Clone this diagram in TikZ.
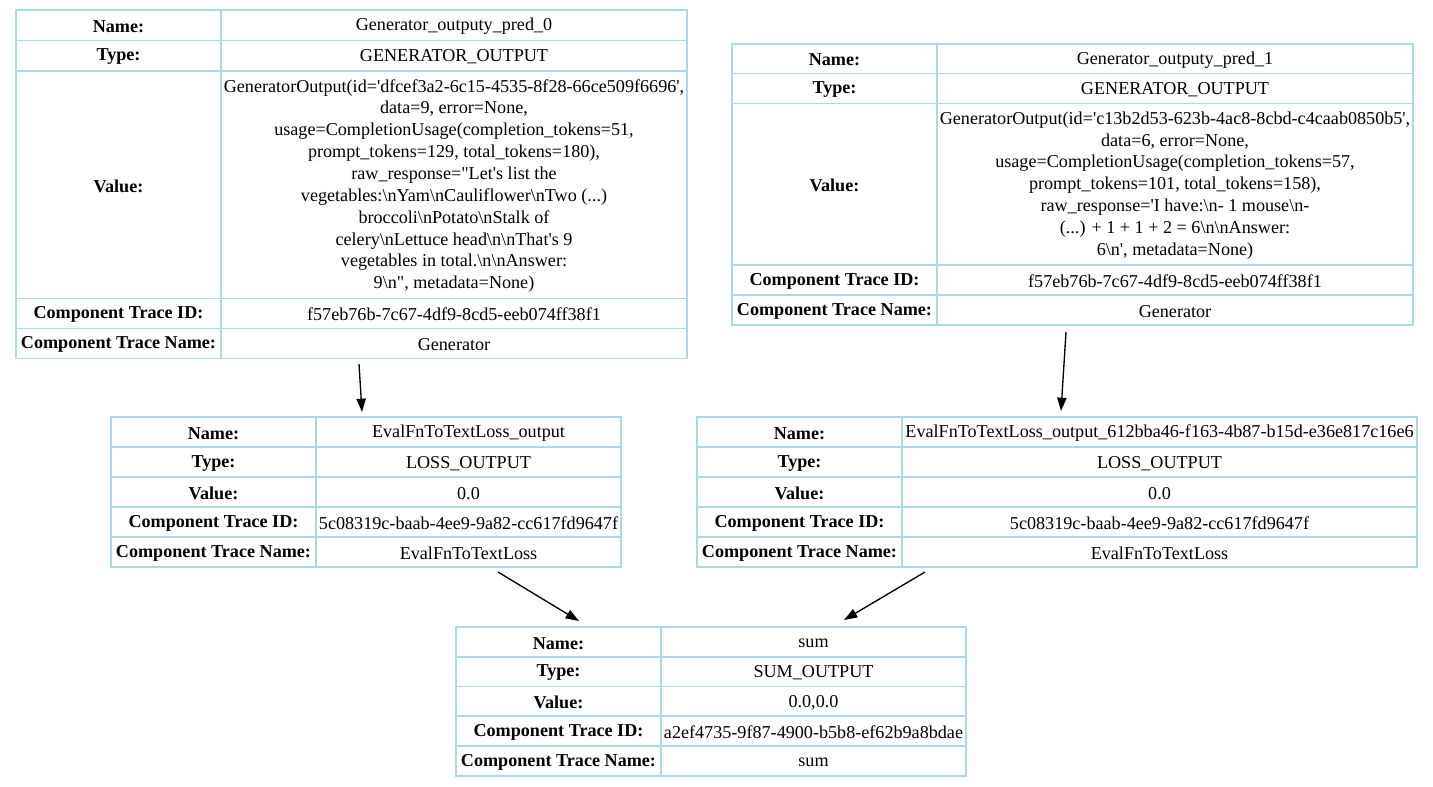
\documentclass[tikz,border=0pt]{standalone}
\usepackage{fontspec}
\setmainfont{Liberation Serif}[Ligatures=TeXOff]
\usetikzlibrary{arrows.meta}
\definecolor{cellblue}{HTML}{ADD8E6}
\newcommand\bs{\textbackslash}
\newcommand\trow[8]{%
  \node[cellbox, minimum width={(#3-#2)*0.75pt}, minimum height={(#6-#5)*0.75pt}] (#1l) at ({(#2+#3)/2},{(#5+#6)/2}) {};
  \node[labtext] (#1lt) at (#1l.center) {#7};
  \node[cellbox, minimum width={(#4-#3)*0.75pt}, minimum height={(#6-#5)*0.75pt}] (#1v) at ({(#3+#4)/2},{(#5+#6)/2}) {};
  \node[valtext] (#1vt) at (#1v.center) {#8};}
\tikzset{
  cellbox/.style={draw=cellblue, line width=1.2pt, rectangle, inner sep=0pt, outer sep=0pt},
  textbase/.style={inner sep=0pt, outer sep=0pt, align=center, yshift=-0.9pt},
  labtext/.style={textbase, font=\fontsize{13.6}{16.4}\selectfont\bfseries},
  valtext/.style={textbase, font=\fontsize{13.6}{16.4}\selectfont},
  arr/.style={-{Triangle[length=10pt,width=7pt]}, line width=1pt, black}
}
\begin{document}
\begin{tikzpicture}[x=0.75pt, y=-0.75pt]
\useasboundingbox (0,0) rectangle (1433,787);
% Table 1
\trow{ta}{16}{221}{687}{10}{40.5}{Name:}{Generator\_outputy\_pred\_0}
\trow{tb}{16}{221}{687}{40.5}{71}{Type:}{GENERATOR\_OUTPUT}
\trow{tc}{16}{221}{687}{71}{298.5}{Value:}{GeneratorOutput(id='dfcef3a2-6c15-4535-8f28-66ce509f6696',\\
data=9, error=None,\\
usage=CompletionUsage(completion\_tokens=51,\\
prompt\_tokens=129, total\_tokens=180),\\
raw\_response="Let's list the\\
vegetables:\bs nYam\bs nCauliflower\bs nTwo (...)\\
broccoli\bs nPotato\bs nStalk of\\
celery\bs nLettuce head\bs n\bs nThat's 9\\
vegetables in total.\bs n\bs nAnswer:\\
9\bs n", metadata=None)}
\trow{td}{16}{221}{687}{298.5}{328.5}{Component Trace ID:}{f57eb76b-7c67-4df9-8cd5-eeb074ff38f1}
\trow{te}{16}{221}{687}{328.5}{358.5}{Component Trace Name:}{Generator}
% Table 2
\trow{ua}{732}{937}{1413}{44}{73.5}{Name:}{Generator\_outputy\_pred\_1}
\trow{ub}{732}{937}{1413}{73.5}{103.5}{Type:}{GENERATOR\_OUTPUT}
\trow{uc}{732}{937}{1413}{103.5}{265}{Value:}{GeneratorOutput(id='c13b2d53-623b-4ac8-8cbd-c4caab0850b5',\\
data=6, error=None,\\
usage=CompletionUsage(completion\_tokens=57,\\
prompt\_tokens=101, total\_tokens=158),\\
raw\_response='I have:\bs n- 1 mouse\bs n-\\
(...) + 1 + 1 + 2 = 6\bs n\bs nAnswer:\\
6\bs n', metadata=None)}
\trow{ud}{732}{937}{1413}{265}{295}{Component Trace ID:}{f57eb76b-7c67-4df9-8cd5-eeb074ff38f1}
\trow{ue}{732}{937}{1413}{295}{325}{Component Trace Name:}{Generator}
% Table 3
\trow{va}{111}{316}{621}{417}{447}{Name:}{EvalFnToTextLoss\_output}
\trow{vb}{111}{316}{621}{447}{477}{Type:}{LOSS\_OUTPUT}
\trow{vc}{111}{316}{621}{477}{507}{Value:}{0.0}
\trow{vd}{111}{316}{621}{507}{537}{Component Trace ID:}{5c08319c-baab-4ee9-9a82-cc617fd9647f}
\trow{ve}{111}{316}{621}{537}{567}{Component Trace Name:}{EvalFnToTextLoss}
% Table 4
\trow{wa}{697}{902}{1417}{417}{447}{Name:}{EvalFnToTextLoss\_output\_612bba46-f163-4b87-b15d-e36e817c16e6}
\trow{wb}{697}{902}{1417}{447}{477}{Type:}{LOSS\_OUTPUT}
\trow{wc}{697}{902}{1417}{477}{507}{Value:}{0.0}
\trow{wd}{697}{902}{1417}{507}{537}{Component Trace ID:}{5c08319c-baab-4ee9-9a82-cc617fd9647f}
\trow{we}{697}{902}{1417}{537}{567}{Component Trace Name:}{EvalFnToTextLoss}
% Table 5
\trow{xa}{456}{661}{966}{627}{657}{Name:}{sum}
\trow{xb}{456}{661}{966}{657}{686.5}{Type:}{SUM\_OUTPUT}
\trow{xc}{456}{661}{966}{686.5}{716}{Value:}{0.0,0.0}
\trow{xd}{456}{661}{966}{716}{746}{Component Trace ID:}{a2ef4735-9f87-4900-b5b8-ef62b9a8bdae}
\trow{xe}{456}{661}{966}{746}{776}{Component Trace Name:}{sum}
% connectors
\coordinate (a1s) at (359,364);
\coordinate (a1e) at (362,412);
\coordinate (a2s) at (1066,332);
\coordinate (a2e) at (1061,411);
\coordinate (a3s) at (498,572);
\coordinate (a3e) at (579,621);
\coordinate (a4s) at (925,572);
\coordinate (a4e) at (844,620);
\draw[arr] (a1s) -- (a1e);
\draw[arr] (a2s) -- (a2e);
\draw[arr] (a3s) -- (a3e);
\draw[arr] (a4s) -- (a4e);
\end{tikzpicture}
\end{document}
